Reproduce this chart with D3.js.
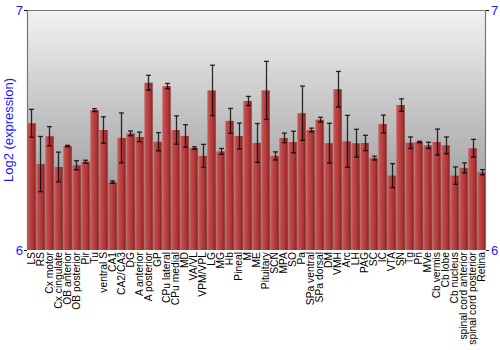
<!DOCTYPE html>
<html><head><meta charset="utf-8">
<script src="https://cdn.jsdelivr.net/npm/d3@7"></script>
<style>body{margin:0;background:#fff}svg{display:block}</style>
</head><body>
<script>
const categories = ["LS","RS","Cx motor","Cx cingulate","OB anterior","OB posterior","Pir","Tu","ventral S","CA1","CA2/CA3","DG","A anterior","A posterior","GP","CPu lateral","CPu medial","MD","VA/VL","VPM/VPL","LG","MG","Hb","Pineal","M","ME","Pituitary","SCN","MPA","SO","Pa","SPa ventral","SPa dorsal","DM","VMH","Arc","LH","PAG","SC","IC","VTA","SN","Tg","Pn","MVe","Cb vermis","Cb lobe","Cb nucleus","spinal cord anterior","spinal cord posterior","Retina"];
const values = [6.528,6.358,6.474,6.346,6.433,6.353,6.368,6.583,6.500,6.283,6.467,6.486,6.471,6.697,6.451,6.683,6.500,6.475,6.425,6.392,6.665,6.411,6.538,6.475,6.621,6.446,6.665,6.392,6.467,6.450,6.570,6.500,6.543,6.445,6.670,6.453,6.445,6.446,6.383,6.525,6.310,6.604,6.447,6.450,6.436,6.450,6.436,6.310,6.342,6.424,6.324];
const errors = [0.058,0.115,0.040,0.062,0.003,0.019,0.006,0.006,0.055,0.005,0.104,0.010,0.020,0.031,0.038,0.011,0.059,0.047,0.005,0.048,0.105,0.012,0.052,0.054,0.019,0.081,0.121,0.017,0.020,0.045,0.113,0.008,0.010,0.083,0.074,0.108,0.058,0.032,0.008,0.037,0.050,0.026,0.024,0.003,0.013,0.054,0.035,0.036,0.021,0.037,0.011];
const yTicks = [6, 7];

const W = 500, H = 350;
const m = {left: 27, right: 14, top: 10, bottom: 100};
const iw = W - m.left - m.right, ih = H - m.top - m.bottom;

const svg = d3.select("body").append("svg").attr("width", W).attr("height", H);
const defs = svg.append("defs");
const bg = defs.append("linearGradient").attr("id","bg").attr("x1",0).attr("y1",0).attr("x2",0).attr("y2",1);
bg.append("stop").attr("offset","0%").attr("stop-color","#f2f2f2");
bg.append("stop").attr("offset","100%").attr("stop-color","#858585");
const bar = defs.append("linearGradient").attr("id","bar").attr("x1",0).attr("y1",0).attr("x2",1).attr("y2",0);
[["0%","#c96060"],["25%","#bf4a4a"],["70%","#ae3434"],["88%","#9a2727"],["100%","#7a1c1c"]].forEach(([o,c]) =>
  bar.append("stop").attr("offset",o).attr("stop-color",c));

const x = d3.scaleBand().domain(categories).range([0, iw]).paddingInner(0.08).paddingOuter(0.04);
const y = d3.scaleLinear().domain([6, 7]).range([ih, 0]);

const g = svg.append("g").attr("transform", `translate(${m.left},${m.top})`);
g.append("rect").attr("width", iw).attr("height", ih).attr("fill", "url(#bg)");

g.selectAll("rect.bar").data(categories).join("rect").attr("class","bar")
  .attr("x", d => x(d)).attr("width", x.bandwidth())
  .attr("y", (d,i) => y(values[i])).attr("height", (d,i) => ih - y(values[i]))
  .attr("fill", "url(#bar)");

const eg = g.append("g").attr("stroke", "#000").attr("stroke-opacity", 0.8).attr("stroke-width", 1.3);
categories.forEach((c, i) => {
  const cx = Math.round(x(c) + x.bandwidth() / 2) + 0.5;
  const y1 = y(values[i] + errors[i]), y0 = y(values[i] - errors[i]);
  eg.append("line").attr("x1", cx).attr("x2", cx).attr("y1", y1).attr("y2", y0);
  eg.append("line").attr("x1", cx - 2.5).attr("x2", cx + 2.5).attr("y1", y1).attr("y2", y1);
  eg.append("line").attr("x1", cx - 2.5).attr("x2", cx + 2.5).attr("y1", y0).attr("y2", y0);
});

// frame
g.append("path").attr("d", `M0.5,${ih}V0.5H${iw - 0.5}V${ih}`).attr("fill","none").attr("stroke","#777").attr("stroke-width",1.2);

// axes
const yl = d3.axisLeft(y).tickValues(yTicks).tickSize(3).tickPadding(1).tickFormat(d3.format("d"));
const yr = d3.axisRight(y).tickValues(yTicks).tickSize(3).tickPadding(2).tickFormat(d3.format("d"));
const ax1 = g.append("g").call(yl);
const ax2 = g.append("g").attr("transform", `translate(${iw},0)`).call(yr);
[ax1, ax2].forEach(a => {
  a.select(".domain").remove();
  a.selectAll("line").attr("stroke", "#000");
  a.selectAll("text").attr("fill", "#1a1aff").attr("font-family", "Liberation Sans, Arial, sans-serif").attr("font-size", 13);
});

const xa = g.append("g").attr("transform", `translate(0,${ih})`).call(d3.axisBottom(x).tickSize(0));
xa.select(".domain").remove();
xa.selectAll("text").attr("transform", "rotate(-90)").attr("text-anchor", "end")
  .attr("x", -2).attr("y", 0).attr("dy", "0.35em")
  .attr("fill", "#000").attr("font-family", "Liberation Sans, Arial, sans-serif").attr("font-size", 10.3);

svg.append("text").attr("transform", `translate(13,${m.top + ih / 2}) rotate(-90)`)
  .attr("text-anchor", "middle").attr("fill", "#1a1aff")
  .attr("font-family", "Liberation Sans, Arial, sans-serif").attr("font-size", 13)
  .text("Log2 (expression)");
</script>
</body></html>
